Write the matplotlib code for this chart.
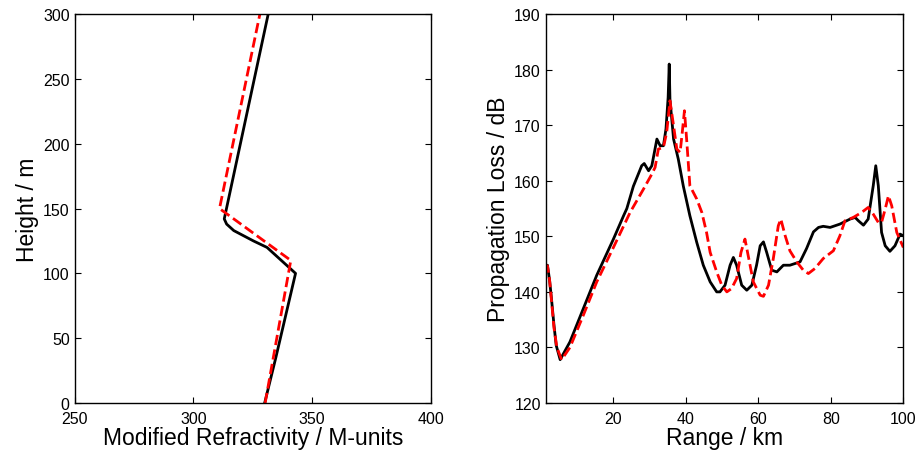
import matplotlib
matplotlib.use("Agg")
import matplotlib.pyplot as plt

plt.rcParams['font.family'] = ['Liberation Sans', 'DejaVu Sans']

# perfil de refratividade modificada
alt_real = [0, 35, 100, 105, 120, 125, 133, 138, 142, 300]
m_real = [330, 334.7, 343, 340, 331, 325.3, 317, 314, 313, 331.5]
alt_mod = [0, 110, 150, 300]
m_mod = [330.2, 341, 311, 328]

# perda de propagacao, curva preta (solida)
km_preto = [1.3, 1.8, 2.4, 2.9, 3.6, 4.2, 5.3, 8.0, 11.7, 15.4, 20.0, 22.8, 23.7,
            25.5, 27.8, 28.5, 29.7, 30.6, 32.0, 32.9, 33.8, 34.5, 35.1, 35.4,
            35.6, 36.6, 37.9, 39.3, 41.1, 43.0, 44.8, 46.7, 48.5, 49.4, 50.8,
            52.2, 53.1, 54.0, 55.4, 56.8, 58.2, 59.5, 60.5, 61.4, 62.3, 63.7,
            65.1, 66.9, 68.7, 71.5, 73.3, 75.2, 76.6, 77.9, 79.8, 82.5, 85.3,
            86.7, 87.6, 89.0, 90.3, 91.7, 92.4, 93.1, 94.0, 95.0, 96.3, 97.7,
            99.1, 100.0]
pl_preto = [144.0, 144.8, 142.0, 138.8, 134.0, 130.4, 127.8, 131.0, 137.0, 143.0,
            149.5, 153.7, 155.0, 159.0, 162.7, 163.1, 161.8, 162.7, 167.5, 166.3,
            166.3, 169.3, 175.0, 181.0, 174.7, 167.5, 163.9, 159.0, 153.7, 148.9,
            144.8, 141.8, 140.0, 140.0, 141.2, 144.8, 146.2, 144.8, 141.2, 140.3,
            141.2, 144.8, 148.3, 149.0, 147.1, 143.9, 143.6, 144.8, 144.8, 145.4,
            147.8, 150.8, 151.6, 151.8, 151.6, 152.2, 153.1, 153.4, 152.8, 152.0,
            153.1, 159.1, 162.7, 159.1, 150.7, 148.3, 147.3, 148.3, 150.4, 150.1]

# perda de propagacao, curva vermelha (tracejada)
km_verm = [1.3, 1.8, 2.4, 2.9, 3.6, 4.4, 5.7, 8.0, 11.7, 15.4, 20.0, 24.6, 28.3,
           30.6, 31.5, 32.4, 33.8, 34.7, 35.6, 36.6, 37.5, 38.4, 39.0, 39.6,
           40.2, 41.1, 43.0, 44.4, 45.7, 46.7, 48.5, 49.9, 51.3, 52.6, 54.0,
           55.2, 56.3, 57.2, 58.6, 60.5, 61.4, 62.8, 64.1, 65.5, 66.2, 67.4,
           68.7, 70.6, 72.4, 73.8, 75.6, 77.9, 80.7, 82.5, 83.9, 86.2, 88.5,
           90.3, 91.7, 93.1, 94.0, 95.0, 95.9, 96.8, 98.2, 100.0]
pl_verm = [144.2, 144.7, 142.0, 138.5, 133.5, 130.0, 127.8, 130.0, 135.8, 141.8,
           148.0, 154.3, 158.5, 161.2, 162.4, 165.7, 166.0, 168.7, 174.4, 169.9,
           165.7, 165.1, 168.7, 172.6, 167.5, 159.1, 156.7, 154.3, 150.7, 147.1,
           143.6, 141.2, 140.0, 140.6, 142.4, 147.1, 149.5, 146.5, 141.8, 139.4,
           139.2, 141.2, 145.9, 151.9, 153.1, 150.1, 147.4, 145.4, 143.9, 143.3,
           144.2, 146.0, 147.4, 150.1, 152.8, 153.4, 154.3, 155.2, 154.0, 152.5,
           152.5, 154.9, 157.3, 155.5, 150.7, 148.0]


def estilo(ax):
    ax.tick_params(direction='in', top=True, right=True, length=4, width=0.8,
                   labelsize=11.5)
    ax.tick_params(axis='x', pad=6)
    ax.tick_params(axis='y', pad=3.5)
    for s in ax.spines.values():
        s.set_linewidth(1.0)


fig = plt.figure(figsize=(9.18, 4.56), dpi=100)
ax1 = fig.add_axes([0.0812, 0.114, 0.3883, 0.853])
ax2 = fig.add_axes([0.5944, 0.114, 0.3896, 0.853])

ax1.plot(m_real, alt_real, color='black', linewidth=2)
ax1.plot(m_mod, alt_mod, color='red', linestyle='--', linewidth=2)
ax1.set_xlim(250, 400)
ax1.set_ylim(0, 300)
ax1.set_xticks([250, 300, 350, 400])
ax1.set_yticks(range(0, 301, 50))
ax1.set_xlabel("Modified Refractivity / M-units", fontsize=16.5, labelpad=0)
ax1.set_ylabel("Height / m", fontsize=16.5, labelpad=3)
estilo(ax1)

ax2.plot(km_preto, pl_preto, color='black', linewidth=2)
ax2.plot(km_verm, pl_verm, color='red', linestyle='--', linewidth=2)
ax2.set_xlim(1.3, 100)
ax2.set_ylim(120, 190)
ax2.set_xticks([20, 40, 60, 80, 100])
ax2.set_yticks(range(120, 191, 10))
ax2.set_xlabel("Range / km", fontsize=16.5, labelpad=0)
ax2.set_ylabel("Propagation Loss / dB", fontsize=16.5, labelpad=3)
estilo(ax2)

fig.savefig("out.png", dpi=100)
